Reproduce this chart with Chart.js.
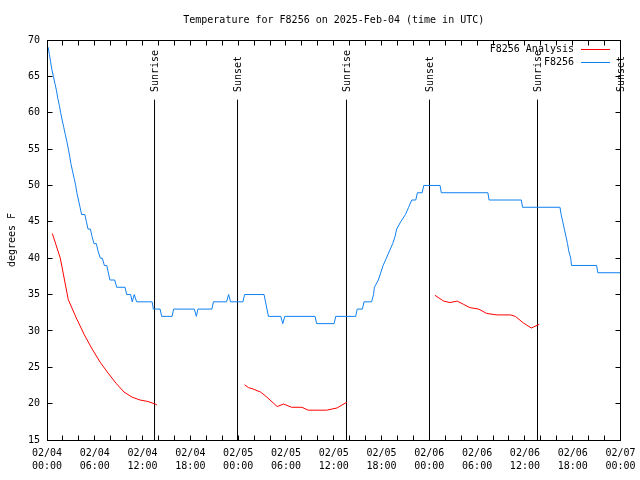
<!DOCTYPE html>
<html>
<head>
<meta charset="utf-8">
<script src="https://cdn.jsdelivr.net/npm/chart.js@4"></script>
<style>
  html, body { margin: 0; padding: 0; background: #fff; }
</style>
</head>
<body>
<canvas id="myChart" width="640" height="480"></canvas>
<script>
// hours since 02/04 00:00 UTC
const blueHours = [0.15, 0.3, 0.45, 0.6, 0.8, 1.0, 1.2, 1.35, 1.55, 1.72, 1.9, 2.1, 2.3, 2.5, 2.68, 2.85, 3.0, 3.2, 3.4, 3.6,
  3.75, 3.95, 4.15, 4.35, 4.75, 4.95, 5.15, 5.45, 5.65, 5.9, 6.2, 6.4, 6.7, 6.95, 7.2, 7.5, 7.9, 8.5, 8.75, 9.8,
  10.0, 10.5, 10.7, 10.95, 11.25, 12.7, 13.2, 13.35, 14.2, 14.4, 15.7, 15.9, 18.5, 18.75, 18.95, 20.7, 20.9, 22.55, 22.8, 23.05,
  24.6, 24.8, 27.25, 27.8, 29.35, 29.6, 29.85, 33.65, 33.85, 36.05, 36.25, 38.75, 38.95, 39.6, 39.8, 40.75, 41.0, 41.1, 41.6, 41.9,
  42.2, 42.6, 43.0, 43.4, 43.7, 43.9, 44.4, 45.0, 45.4, 45.8, 46.3, 46.5, 47.1, 47.3, 49.35, 49.5, 55.35, 55.5, 59.55, 59.7,
  64.4, 64.55, 64.75, 64.95, 65.15, 65.35, 65.5, 65.75, 65.85, 69.0, 69.15, 72];
const blueTemps = [69, 68, 67, 66, 65, 64, 63, 62, 61, 60, 59, 58, 57, 56, 55, 54, 53, 52, 51, 50,
  49, 48, 47, 46, 46, 45, 44, 44, 43, 42, 42, 41, 40, 40, 39, 39, 37, 37, 36, 36,
  35, 35, 34, 35, 34, 34, 34, 33, 33, 32, 32, 33, 33, 32, 33, 33, 34, 34, 35, 34,
  34, 35, 35, 32, 32, 31, 32, 32, 31, 31, 32, 32, 33, 33, 34, 34, 35, 36, 37, 38,
  39, 40, 41, 42, 43, 44, 45, 46, 47, 48, 48, 49, 49, 50, 50, 49, 49, 48, 48, 47,
  47, 46, 45, 44, 43, 42, 41, 40, 39, 39, 38, 38];

// analysis series, null = gap
const redHours = [0.67, 1.67, 2.67, 3.67, 4.67, 5.67, 6.67, 7.67, 8.67, 9.67, 10.67, 11.67, 12.67, 13.67, 13.8, 19,
  24.8, 25.3, 25.9, 26.8, 27.6, 28.9, 29.7, 30.7, 32.0, 32.8, 35.1, 36.4, 37.65, 43,
  48.7, 49.8, 50.6, 51.5, 52.3, 53.1, 54.2, 55.2, 56.5, 58.2, 58.8, 59.8, 60.8, 61.8];
const redTemps = [43.4, 40.0, 34.3, 31.8, 29.5, 27.5, 25.7, 24.2, 22.8, 21.6, 20.9, 20.5, 20.3, 19.9, 19.8, null,
  22.6, 22.2, 22.0, 21.6, 20.9, 19.6, 19.95, 19.5, 19.5, 19.1, 19.1, 19.4, 20.2, null,
  34.9, 34.1, 33.9, 34.1, 33.65, 33.2, 33.0, 32.4, 32.2, 32.2, 32.0, 31.1, 30.4, 30.9];

const sunHours = [13.5, 23.92, 37.6, 48.02, 61.58, 72.0];
const sunLabels = ['Sunrise', 'Sunset', 'Sunrise', 'Sunset', 'Sunrise', 'Sunset'];
const sunTop = 61.8;

const dayLabels = ['02/04', '02/05', '02/06', '02/07'];
const yMin = 15, yMax = 70, yStep = 5;

const FONT = '"DejaVu Sans Mono", "Liberation Mono", monospace';

const sunSets = sunHours.map(h => ({
  data: [{ x: h, y: yMin }, { x: h, y: sunTop }],
  borderColor: '#000',
  borderWidth: 1,
  pointRadius: 0,
}));

// gnuplot-ish frame, inward ticks, labels and key
const gnuFrame = {
  id: 'gnuFrame',
  afterDraw(chart) {
    const { ctx, chartArea: a } = chart;
    const xs = chart.scales.x, ys = chart.scales.y;
    const L = Math.floor(a.left) + 0.5, R = Math.floor(a.right) + 0.5;
    const T = Math.floor(a.top) + 0.5, B = Math.floor(a.bottom) + 0.5;
    ctx.save();
    ctx.strokeStyle = '#000';
    ctx.lineWidth = 1;
    ctx.beginPath();
    xs.ticks.forEach(t => {
      const x = Math.floor(xs.getPixelForValue(t.value)) + 0.5;
      ctx.moveTo(x, B); ctx.lineTo(x, B - 5);
      ctx.moveTo(x, T); ctx.lineTo(x, T + 5);
    });
    ys.ticks.forEach(t => {
      const y = Math.floor(ys.getPixelForValue(t.value)) + 0.5;
      ctx.moveTo(L, y); ctx.lineTo(L + 5, y);
      ctx.moveTo(R, y); ctx.lineTo(R - 5, y);
    });
    ctx.stroke();
    ctx.strokeRect(L, T, R - L, B - T);

    ctx.fillStyle = '#000';
    ctx.font = '10px ' + FONT;

    // sun labels
    sunHours.forEach((h, i) => {
      const x = xs.getPixelForValue(h);
      ctx.save();
      ctx.translate(x + 1, 92);
      ctx.rotate(-Math.PI / 2);
      ctx.textAlign = 'left';
      ctx.textBaseline = 'middle';
      ctx.fillText(sunLabels[i], 0, 0);
      ctx.restore();
    });

    // key
    const key = [['F8256 Analysis', 'red'], ['F8256', 'rgb(16,128,240)']];
    key.forEach(([txt, col], i) => {
      const y = 49.5 + i * 13;
      ctx.textAlign = 'right';
      ctx.textBaseline = 'middle';
      ctx.fillText(txt, 574, y);
      ctx.strokeStyle = col;
      ctx.beginPath();
      ctx.moveTo(581, y); ctx.lineTo(610, y);
      ctx.stroke();
    });

    // title
    ctx.textAlign = 'center';
    ctx.textBaseline = 'middle';
    ctx.fillText('Temperature for F8256 on 2025-Feb-04 (time in UTC)', (a.left + a.right) / 2, 20);

    // y title
    ctx.save();
    ctx.translate(12, (a.top + a.bottom) / 2);
    ctx.rotate(-Math.PI / 2);
    ctx.fillText('degrees F', 0, 0);
    ctx.restore();
    ctx.restore();
  }
};

new Chart(document.getElementById('myChart'), {
  type: 'line',
  data: {
    datasets: [
      {
        label: 'F8256 Analysis',
        data: redHours.map((h, i) => ({ x: h, y: redTemps[i] })),
        borderColor: 'red',
        borderWidth: 1,
        pointRadius: 0,
        spanGaps: false,
      },
      {
        label: 'F8256',
        data: blueHours.map((h, i) => ({ x: h, y: blueTemps[i] })),
        borderColor: 'rgb(16,128,240)',
        borderWidth: 1,
        pointRadius: 0,
      },
      ...sunSets,
    ],
  },
  options: {
    responsive: false,
    animation: false,
    devicePixelRatio: 1,
    layout: { padding: { top: 40, right: 19.5, left: 0, bottom: 0 } },
    plugins: {
      legend: { display: false },
      title: { display: false },
      tooltip: { enabled: false },
    },
    scales: {
      x: {
        type: 'linear',
        min: 0,
        max: 72,
        grid: { display: false, drawTicks: false },
        border: { display: false },
        afterFit: s => { s.height = 40; s.paddingLeft = 0; s.paddingRight = 0; },
        ticks: {
          stepSize: 2,
          autoSkip: false,
          maxRotation: 0,
          padding: 7,
          color: '#000',
          font: { family: FONT, size: 10, lineHeight: 1.3 },
          callback: v => {
            if (v % 6 !== 0) return '';
            const hh = v % 24;
            return [dayLabels[Math.floor(v / 24)], (hh < 10 ? '0' : '') + hh + ':00'];
          },
        },
      },
      y: {
        type: 'linear',
        min: yMin,
        max: yMax,
        grid: { display: false, drawTicks: false },
        border: { display: false },
        afterFit: s => { s.width = 47; s.paddingTop = 0; s.paddingBottom = 0; },
        ticks: {
          stepSize: yStep,
          padding: 7,
          color: '#000',
          font: { family: FONT, size: 10 },
        },
      },
    },
  },
  plugins: [gnuFrame],
});
</script>
</body>
</html>
